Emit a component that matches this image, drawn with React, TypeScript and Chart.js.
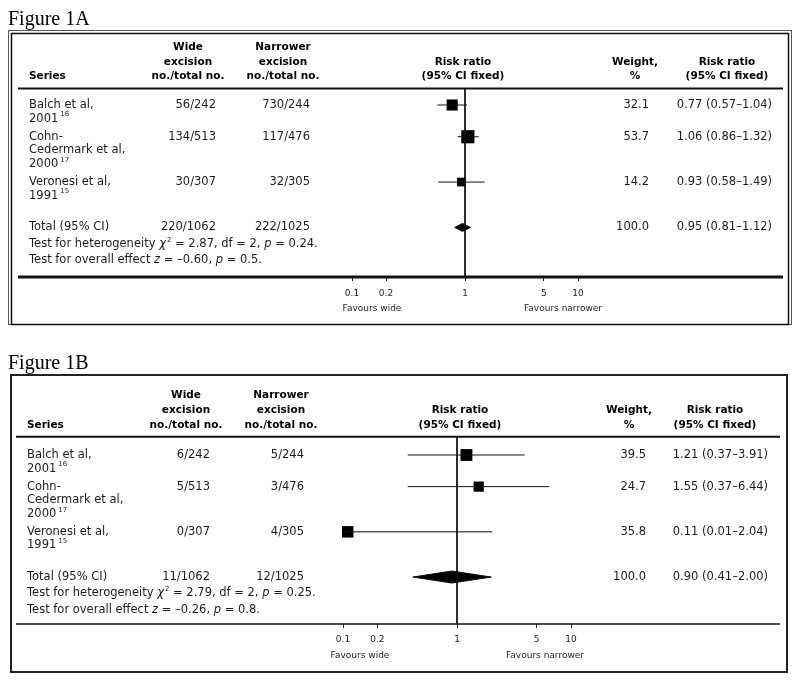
import React, { useEffect, useRef } from "react";
import { Chart, registerables } from "chart.js";

Chart.register(...registerables);

// ---------- shared labels ----------
const STUDY_NAMES = [["Balch et al,", "2001"], ["Cohn-", "Cedermark et al,", "2000"], ["Veronesi et al,", "1991"]];
const STUDY_REFS = ["16", "17", "15"];
const AXIS_TICKS = [0.1, 0.2, 1, 5, 10];
const AXIS_TICK_LABELS = ["0.1", "0.2", "1", "5", "10"];

// ---------- Figure 1A data ----------
const A_WIDE_EVENTS = [56, 134, 30];
const A_WIDE_TOTAL = [242, 513, 307];
const A_NARROW_EVENTS = [730, 117, 32];
const A_NARROW_TOTAL = [244, 476, 305];
const A_RR = [0.77, 1.06, 0.93];
const A_LOW = [0.57, 0.86, 0.58];
const A_HIGH = [1.04, 1.32, 1.49];
const A_WEIGHT = [32.1, 53.7, 14.2];
const A_TOTAL_EVENTS = [220, 222];
const A_TOTAL_N = [1062, 1025];
const A_POOLED = [0.95, 0.81, 1.12];
const A_HET = [2.87, 2, "0.24"];
const A_OVERALL = [-0.6, "0.5"];

// ---------- Figure 1B data ----------
const B_WIDE_EVENTS = [6, 5, 0];
const B_WIDE_TOTAL = [242, 513, 307];
const B_NARROW_EVENTS = [5, 3, 4];
const B_NARROW_TOTAL = [244, 476, 305];
const B_RR = [1.21, 1.55, 0.11];
const B_LOW = [0.37, 0.37, 0.01];
const B_HIGH = [3.91, 6.44, 2.04];
const B_WEIGHT = [39.5, 24.7, 35.8];
const B_TOTAL_EVENTS = [11, 12];
const B_TOTAL_N = [1062, 1025];
const B_POOLED = [0.9, 0.41, 2.0];
const B_HET = [2.79, 2, "0.25"];
const B_OVERALL = [-0.26, "0.8"];

// ---------- style / layout ----------
const W = 800;
const AXIS_H = 30;
const INK = "#111";
const TEXT = "#1c1c1c";
const FAM = '"DejaVu Sans", sans-serif';
const BODY_FONT = `11.5px ${FAM}`;
const ITALIC_FONT = `italic 11.5px ${FAM}`;
const SUP_FONT = `7px ${FAM}`;
const HEAD_FONT = `bold 10.5px ${FAM}`;
const AXIS_FONT_SIZE = 9;
const ROW_GAP = 1 / 3;

const LAYOUT_A = {
  canvasH: 340, titleY: 24.5, border: "double",
  areaLeft: 352, areaRight: 578, areaTop: 89, areaBottom: 277,
  firstRowY: 105, lineH: 13.6,
  headerY: [47.5, 62, 76], headerRuleY: 88.5, headerRuleW: 2, axisLineW: 3, ruleX: [18, 783],
  namesX: 29, wideHdrX: 188, narrowHdrX: 283, midHdrX: 463, weightHdrX: 635, rrHdrX: 727,
  wideX: 216, narrowX: 310, weightX: 649, rrX: 772,
  favWideX: 372, favNarrowX: 563, favY: 309, tickPad: 7, diamondHalf: 4,
};
const LAYOUT_B = {
  canvasH: 342, titleY: 28.5, border: "single",
  areaLeft: 343, areaRight: 571, areaTop: 97, areaBottom: 284,
  firstRowY: 115, lineH: 13.56,
  headerY: [55.5, 70.5, 85], headerRuleY: 96.7, headerRuleW: 2, axisLineW: 1.5, ruleX: [16, 780],
  namesX: 27, wideHdrX: 186, narrowHdrX: 281, midHdrX: 460, weightHdrX: 629, rrHdrX: 715,
  wideX: 210, narrowX: 304, weightX: 646, rrX: 768,
  favWideX: 360, favNarrowX: 545, favY: 316, tickPad: 6, diamondHalf: 6,
};

const FIG_A = {
  title: "Figure 1A", wideE: A_WIDE_EVENTS, wideN: A_WIDE_TOTAL, narE: A_NARROW_EVENTS, narN: A_NARROW_TOTAL,
  rr: A_RR, low: A_LOW, high: A_HIGH, weight: A_WEIGHT, totE: A_TOTAL_EVENTS, totN: A_TOTAL_N,
  pooled: A_POOLED, het: A_HET, overall: A_OVERALL, L: LAYOUT_A,
};
const FIG_B = {
  title: "Figure 1B", wideE: B_WIDE_EVENTS, wideN: B_WIDE_TOTAL, narE: B_NARROW_EVENTS, narN: B_NARROW_TOTAL,
  rr: B_RR, low: B_LOW, high: B_HIGH, weight: B_WEIGHT, totE: B_TOTAL_EVENTS, totN: B_TOTAL_N,
  pooled: B_POOLED, het: B_HET, overall: B_OVERALL, L: LAYOUT_B,
};

function rowPositions() {
  const pos: number[] = [];
  let acc = 0;
  STUDY_NAMES.forEach((lines) => {
    pos.push(acc);
    acc += lines.length + ROW_GAP;
  });
  const total = acc + 1; // blank line before total
  return { pos, total };
}

function markerSide(w: number) {
  return 4 + 1.25 * Math.sqrt(w);
}

function fmtRR(r: number, lo: number, hi: number) {
  return `${r.toFixed(2)} (${lo.toFixed(2)}\u2013${hi.toFixed(2)})`;
}
function fmtSigned(v: number) {
  return (v < 0 ? "\u2013" : "") + Math.abs(v).toFixed(2);
}

function txt(ctx: CanvasRenderingContext2D, s: string, x: number, y: number, align: CanvasTextAlign, font: string, color = TEXT) {
  ctx.font = font;
  ctx.textAlign = align;
  ctx.textBaseline = "middle";
  ctx.fillStyle = color;
  ctx.fillText(s, x, y);
}

type Seg = { t: string; italic?: boolean; sup?: boolean; gap?: number };
function rich(ctx: CanvasRenderingContext2D, segs: Seg[], x: number, y: number) {
  let cx = x;
  ctx.textAlign = "left";
  ctx.textBaseline = "middle";
  ctx.fillStyle = TEXT;
  for (const s of segs) {
    cx += s.gap || 0;
    ctx.font = s.sup ? SUP_FONT : s.italic ? ITALIC_FONT : BODY_FONT;
    ctx.fillText(s.t, cx, s.sup ? y - 4 : y);
    cx += ctx.measureText(s.t).width;
  }
}

function hline(ctx: CanvasRenderingContext2D, x1: number, x2: number, y: number, w: number) {
  ctx.beginPath();
  ctx.strokeStyle = INK;
  ctx.lineWidth = w;
  ctx.moveTo(x1, y);
  ctx.lineTo(x2, y);
  ctx.stroke();
}

function tablePlugin(fig: any) {
  const L = fig.L;
  return {
    id: "forestTable",
    afterDraw(chart: any) {
      const ctx: CanvasRenderingContext2D = chart.ctx;
      const ys = chart.scales.y;
      const { pos, total } = rowPositions();
      const lh = ys.getPixelForValue(1) - ys.getPixelForValue(0);
      ctx.save();

      // title
      ctx.font = `20px "Liberation Serif", "Times New Roman", serif`;
      ctx.textAlign = "left";
      ctx.textBaseline = "alphabetic";
      ctx.fillStyle = "#000";
      ctx.fillText(fig.title, 8, L.titleY);

      // frame
      if (L.border === "double") {
        ctx.strokeStyle = "#555";
        ctx.lineWidth = 1;
        ctx.strokeRect(8.5, 30.5, 783, 294);
        ctx.strokeStyle = "#111";
        ctx.lineWidth = 1.5;
        ctx.strokeRect(11.5, 33.5, 777, 291);
      } else {
        ctx.strokeStyle = "#222";
        ctx.lineWidth = 2;
        ctx.strokeRect(11, 35, 776, 297);
      }

      // header
      const [h1, h2, h3] = L.headerY;
      txt(ctx, "Series", L.namesX, h3, "left", HEAD_FONT, "#000");
      txt(ctx, "Wide", L.wideHdrX, h1, "center", HEAD_FONT, "#000");
      txt(ctx, "excision", L.wideHdrX, h2, "center", HEAD_FONT, "#000");
      txt(ctx, "no./total no.", L.wideHdrX, h3, "center", HEAD_FONT, "#000");
      txt(ctx, "Narrower", L.narrowHdrX, h1, "center", HEAD_FONT, "#000");
      txt(ctx, "excision", L.narrowHdrX, h2, "center", HEAD_FONT, "#000");
      txt(ctx, "no./total no.", L.narrowHdrX, h3, "center", HEAD_FONT, "#000");
      txt(ctx, "Risk ratio", L.midHdrX, h2, "center", HEAD_FONT, "#000");
      txt(ctx, "(95% CI fixed)", L.midHdrX, h3, "center", HEAD_FONT, "#000");
      txt(ctx, "Weight,", L.weightHdrX, h2, "center", HEAD_FONT, "#000");
      txt(ctx, "%", L.weightHdrX, h3, "center", HEAD_FONT, "#000");
      txt(ctx, "Risk ratio", L.rrHdrX, h2, "center", HEAD_FONT, "#000");
      txt(ctx, "(95% CI fixed)", L.rrHdrX, h3, "center", HEAD_FONT, "#000");

      hline(ctx, L.ruleX[0], L.ruleX[1], L.headerRuleY, L.headerRuleW);
      hline(ctx, L.ruleX[0], L.ruleX[1], L.areaBottom, L.axisLineW);

      // study rows
      STUDY_NAMES.forEach((lines, i) => {
        const y0 = ys.getPixelForValue(pos[i]);
        lines.forEach((ln, k) => {
          if (k === lines.length - 1) {
            rich(ctx, [{ t: ln }, { t: STUDY_REFS[i], sup: true, gap: 2 }], L.namesX, y0 + k * lh);
          } else {
            txt(ctx, ln, L.namesX, y0 + k * lh, "left", BODY_FONT);
          }
        });
        txt(ctx, `${fig.wideE[i]}/${fig.wideN[i]}`, L.wideX, y0, "right", BODY_FONT);
        txt(ctx, `${fig.narE[i]}/${fig.narN[i]}`, L.narrowX, y0, "right", BODY_FONT);
        txt(ctx, fig.weight[i].toFixed(1), L.weightX, y0, "right", BODY_FONT);
        txt(ctx, fmtRR(fig.rr[i], fig.low[i], fig.high[i]), L.rrX, y0, "right", BODY_FONT);
      });

      // total
      const yt = ys.getPixelForValue(total);
      txt(ctx, "Total (95% CI)", L.namesX, yt, "left", BODY_FONT);
      txt(ctx, `${fig.totE[0]}/${fig.totN[0]}`, L.wideX, yt, "right", BODY_FONT);
      txt(ctx, `${fig.totE[1]}/${fig.totN[1]}`, L.narrowX, yt, "right", BODY_FONT);
      const wsum = fig.weight.reduce((a: number, b: number) => a + b, 0);
      txt(ctx, wsum.toFixed(1), L.weightX, yt, "right", BODY_FONT);
      txt(ctx, fmtRR(fig.pooled[0], fig.pooled[1], fig.pooled[2]), L.rrX, yt, "right", BODY_FONT);

      const yh = ys.getPixelForValue(total + 1.2);
      rich(ctx, [
        { t: "Test for heterogeneity " }, { t: "\u03c7", italic: true }, { t: "2", sup: true, gap: 1 },
        { t: ` = ${fig.het[0].toFixed(2)}, df = ${fig.het[1]}, ` }, { t: "p", italic: true }, { t: ` = ${fig.het[2]}.` },
      ], L.namesX, yh);
      const yo = ys.getPixelForValue(total + 2.4);
      rich(ctx, [
        { t: "Test for overall effect " }, { t: "z", italic: true },
        { t: ` = ${fmtSigned(fig.overall[0])}, ` }, { t: "p", italic: true }, { t: ` = ${fig.overall[1]}.` },
      ], L.namesX, yo);

      // axis captions
      txt(ctx, "Favours wide", L.favWideX, L.favY, "center", `${AXIS_FONT_SIZE}px ${FAM}`);
      txt(ctx, "Favours narrower", L.favNarrowX, L.favY, "center", `${AXIS_FONT_SIZE}px ${FAM}`);
      ctx.restore();
    },
  };
}

function buildConfig(fig: any) {
  const L = fig.L;
  const { pos, total } = rowPositions();
  const yMin = -(L.firstRowY - L.areaTop) / L.lineH;
  const yMax = (L.areaBottom - L.firstRowY) / L.lineH;
  const h = L.diamondHalf / L.lineH;
  const base = { borderColor: INK, borderWidth: 1, pointRadius: 0, pointHoverRadius: 0, fill: false };
  const datasets: any[] = [];
  datasets.push({ ...base, data: [{ x: 1, y: yMin }, { x: 1, y: yMax }] });
  pos.forEach((p, i) => {
    datasets.push({ ...base, data: [{ x: fig.low[i], y: p }, { x: fig.high[i], y: p }] });
  });
  datasets.push({
    data: fig.rr.map((v: number, i: number) => ({ x: v, y: pos[i] })),
    showLine: false,
    pointStyle: "rect",
    pointRadius: (c: any) => markerSide(fig.weight[c.dataIndex]) / Math.SQRT2,
    pointHoverRadius: (c: any) => markerSide(fig.weight[c.dataIndex]) / Math.SQRT2,
    pointBackgroundColor: "#000",
    pointBorderWidth: 0,
    borderWidth: 0,
    clip: false,
  });
  const [est, lo, hi] = fig.pooled;
  datasets.push({ ...base, data: [{ x: lo, y: total }, { x: est, y: total - h }, { x: hi, y: total }] });
  datasets.push({
    ...base,
    data: [{ x: lo, y: total }, { x: est, y: total + h }, { x: hi, y: total }],
    fill: "-1",
    backgroundColor: "#000",
  });

  return {
    type: "line",
    data: { datasets },
    options: {
      responsive: false,
      animation: false,
      devicePixelRatio: 1,
      events: [],
      layout: {
        padding: {
          left: L.areaLeft,
          right: W - L.areaRight,
          top: L.areaTop,
          bottom: L.canvasH - L.areaBottom - AXIS_H,
        },
      },
      plugins: { legend: { display: false }, tooltip: { enabled: false }, title: { display: false } },
      scales: {
        x: {
          type: "logarithmic",
          min: 0.1,
          max: 10,
          position: "bottom",
          afterBuildTicks: (s: any) => {
            s.ticks = AXIS_TICKS.map((v) => ({ value: v }));
          },
          afterFit: (s: any) => {
            s.height = AXIS_H;
          },
          ticks: {
            autoSkip: false,
            maxRotation: 0,
            minRotation: 0,
            padding: L.tickPad,
            font: { family: FAM, size: AXIS_FONT_SIZE },
            color: TEXT,
            callback: (_v: any, i: number) => AXIS_TICK_LABELS[i],
          },
          grid: { drawOnChartArea: false, drawTicks: true, tickLength: 4, color: "#222", lineWidth: 1 },
          border: { display: false },
        },
        y: { type: "linear", display: false, reverse: true, min: yMin, max: yMax },
      },
    },
    plugins: [tablePlugin(fig)],
  };
}

function Figure({ fig }: { fig: any }) {
  const ref = useRef<HTMLCanvasElement>(null);
  useEffect(() => {
    const chart = new Chart(ref.current as HTMLCanvasElement, buildConfig(fig) as any);
    return () => chart.destroy();
  }, [fig]);
  return (
    <canvas
      ref={ref}
      width={W}
      height={fig.L.canvasH}
      style={{ display: "block", width: W, height: fig.L.canvasH }}
    />
  );
}

export default function App() {
  useEffect(() => {
    document.body.style.margin = "0";
    document.body.style.background = "#fff";
  }, []);
  return (
    <div style={{ width: W, background: "#fff" }}>
      <Figure fig={FIG_A} />
      <Figure fig={FIG_B} />
    </div>
  );
}
